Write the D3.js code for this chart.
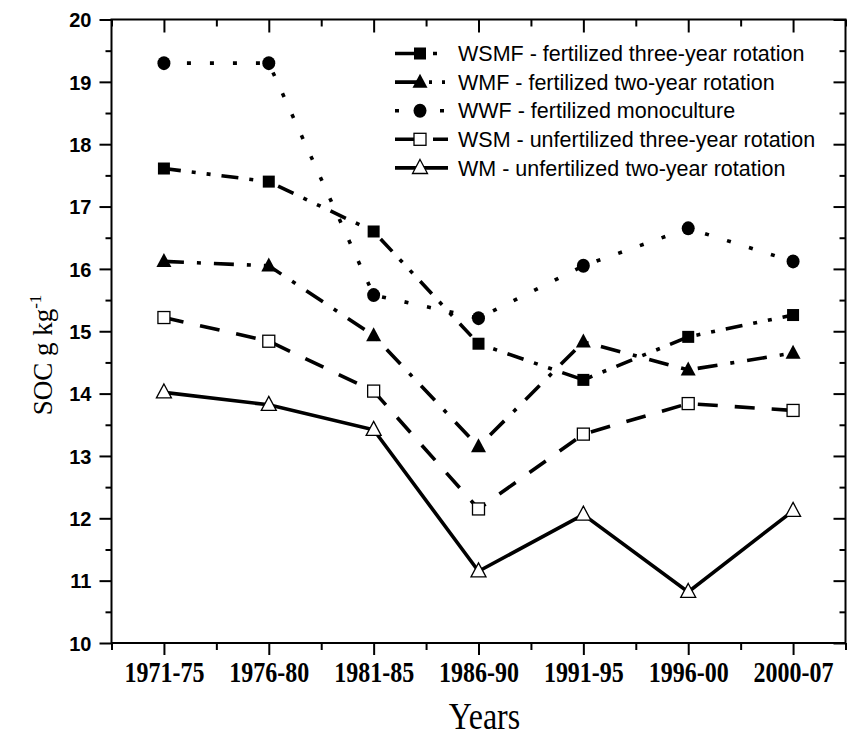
<!DOCTYPE html>
<html>
<head>
<meta charset="utf-8">
<script src="https://cdn.jsdelivr.net/npm/d3@7"></script>
<style>
  html, body { margin: 0; padding: 0; background: #fff; }
  svg { display: block; }
</style>
</head>
<body>
<svg id="chart" width="847" height="739"></svg>
<script>
// ---- data ----
const categories = ["1971-75", "1976-80", "1981-85", "1986-90", "1991-95", "1996-00", "2000-07"];
const WSMF = [17.61, 17.40, 16.60, 14.80, 14.22, 14.91, 15.26];
const WMF  = [16.12, 16.05, 14.93, 13.15, 14.83, 14.38, 14.65];
const WWF  = [19.30, 19.30, 15.58, 15.21, 16.05, 16.65, 16.12];
const WSM  = [15.22, 14.84, 14.04, 12.15, 13.35, 13.84, 13.73];
const WM   = [14.02, 13.82, 13.42, 11.15, 12.06, 10.82, 12.12];
const seriesNames = [
  "WSMF - fertilized three-year rotation",
  "WMF - fertilized two-year rotation",
  "WWF - fertilized monoculture",
  "WSM - unfertilized three-year rotation",
  "WM - unfertilized two-year rotation"
];
const yTicks = [10, 11, 12, 13, 14, 15, 16, 17, 18, 19, 20];

// ---- styles ----
const series = [
  { name: seriesNames[0], values: WSMF, dash: "17,11,4,11,4,11", marker: "square", fill: "#000", legendDash: "23,15,4,30" },
  { name: seriesNames[1], values: WMF,  dash: "20,13,4,13",       marker: "triangle", fill: "#000", legendDash: "25,9,3,10,3,30" },
  { name: seriesNames[2], values: WWF,  dash: "4,19",             marker: "circle", fill: "#000", legendDash: "4,41,4,30" },
  { name: seriesNames[3], values: WSM,  dash: "20,17",            marker: "square", fill: "#fff", legendDash: "22,16,15,30" },
  { name: seriesNames[4], values: WM,   dash: null,               marker: "triangle", fill: "#fff", legendDash: null }
];

const svg = d3.select("#chart");
const pLeft = 111.5, pRight = 845.5, pTop = 19.5, pBottom = 643;
const stretch = 1.2;
const x = d3.scaleLinear().domain([-0.5, categories.length - 0.5]).range([pLeft, pRight]);
const y = d3.scaleLinear().domain([10, 20]).range([pBottom, pTop]);

const majorX = d3.range(categories.length);
const minorX = d3.range(categories.length + 1).map(i => i - 0.5);
const minorY = d3.range(10.5, 20, 1);

function styleAxis(g) {
  g.select(".domain").remove();
  g.selectAll(".tick line").attr("stroke", "#000").attr("stroke-width", 2);
}

// bottom axis (outward ticks)
svg.append("g").attr("transform", `translate(0,${pBottom})`)
  .call(d3.axisBottom(x).tickValues(majorX).tickSize(12).tickFormat(i => categories[i]))
  .call(styleAxis)
  .call(g => g.selectAll("text")
    .attr("dy", 0).attr("y", 39 / stretch)
    .attr("transform", `scale(1,${stretch})`)
    .attr("font-family", "'Liberation Serif', 'Times New Roman', serif")
    .style("font-weight", "bold").attr("font-size", 24).attr("fill", "#000"));
svg.append("g").attr("transform", `translate(0,${pBottom})`)
  .call(d3.axisBottom(x).tickValues(minorX).tickSize(7).tickFormat(""))
  .call(styleAxis);

// top axis (inward ticks)
svg.append("g").attr("transform", `translate(0,${pTop})`)
  .call(d3.axisBottom(x).tickValues(majorX).tickSize(13).tickFormat(""))
  .call(styleAxis);
svg.append("g").attr("transform", `translate(0,${pTop})`)
  .call(d3.axisBottom(x).tickValues(minorX).tickSize(7).tickFormat(""))
  .call(styleAxis);

// left axis (outward)
svg.append("g").attr("transform", `translate(${pLeft},0)`)
  .call(d3.axisLeft(y).tickValues(yTicks).tickSize(12).tickFormat(d3.format("d")))
  .call(styleAxis)
  .call(g => g.selectAll("text")
    .attr("x", -20).attr("dy", "0.36em")
    .attr("font-family", "'Liberation Sans', Arial, sans-serif")
    .style("font-weight", "bold").attr("font-size", 20).attr("fill", "#000"));
svg.append("g").attr("transform", `translate(${pLeft},0)`)
  .call(d3.axisLeft(y).tickValues(minorY).tickSize(6).tickFormat(""))
  .call(styleAxis);

// right axis (inward)
svg.append("g").attr("transform", `translate(${pRight},0)`)
  .call(d3.axisLeft(y).tickValues(yTicks).tickSize(12).tickFormat(""))
  .call(styleAxis);
svg.append("g").attr("transform", `translate(${pRight},0)`)
  .call(d3.axisLeft(y).tickValues(minorY).tickSize(6).tickFormat(""))
  .call(styleAxis);

// frame
svg.append("rect").attr("x", pLeft).attr("y", pTop)
  .attr("width", pRight - pLeft).attr("height", pBottom - pTop)
  .attr("fill", "none").attr("stroke", "#000").attr("stroke-width", 2);

// lines
const line = d3.line().x((d, i) => x(i)).y(d => y(d));
series.forEach(s => {
  svg.append("path").datum(s.values)
    .attr("d", line)
    .attr("fill", "none").attr("stroke", "#000").attr("stroke-width", 3.6)
    .attr("stroke-dasharray", s.dash);
});

function drawMarker(g, type, fill, cx, cy) {
  const sw = fill === "#fff" ? 1.3 : 0;
  if (type === "square") {
    g.append("rect").attr("x", cx - 6).attr("y", cy - 6).attr("width", 12).attr("height", 12)
      .attr("fill", fill).attr("stroke", "#000").attr("stroke-width", sw);
  } else if (type === "circle") {
    g.append("ellipse").attr("cx", cx).attr("cy", cy).attr("rx", 6.5).attr("ry", 7)
      .attr("fill", fill);
  } else {
    const h = 14, w = 15;
    g.append("path")
      .attr("d", `M${cx},${cy - h * 0.6}L${cx + w / 2},${cy + h * 0.4}L${cx - w / 2},${cy + h * 0.4}Z`)
      .attr("fill", fill).attr("stroke", "#000").attr("stroke-width", sw);
  }
}

series.forEach(s => {
  const g = svg.append("g");
  s.values.forEach((v, i) => drawMarker(g, s.marker, s.fill, x(i), y(v)));
});

// legend
const legX0 = 395, legX1 = 448, legY0 = 53.5, legStep = 28.6;
series.forEach((s, i) => {
  const ly = legY0 + i * legStep;
  const g = svg.append("g");
  g.append("line").attr("x1", legX0).attr("x2", legX1).attr("y1", ly).attr("y2", ly)
    .attr("stroke", "#000").attr("stroke-width", 3.6)
    .attr("stroke-dasharray", s.legendDash);
  drawMarker(g, s.marker, s.fill, 420, ly);
  g.append("text").attr("x", 458).attr("y", ly).attr("dy", "0.36em")
    .attr("font-family", "'Liberation Sans', Arial, sans-serif")
    .attr("font-size", 21.5).attr("fill", "#000").text(s.name);
});

// axis titles
svg.append("text")
  .attr("transform", `translate(${(pLeft + pRight) / 2 + 6},729) scale(1,${stretch})`)
  .attr("text-anchor", "middle")
  .attr("font-family", "'Liberation Serif', 'Times New Roman', serif")
  .attr("font-size", 32).attr("fill", "#000").text("Years");

const yl = svg.append("text")
  .attr("transform", "translate(52,355) rotate(-90)")
  .attr("text-anchor", "middle")
  .attr("font-family", "'Liberation Serif', 'Times New Roman', serif")
  .attr("font-size", 27).attr("fill", "#000");
yl.append("tspan").text("SOC g kg");
yl.append("tspan").attr("dy", -11).attr("font-size", 17).text("-1");
</script>
</body>
</html>
